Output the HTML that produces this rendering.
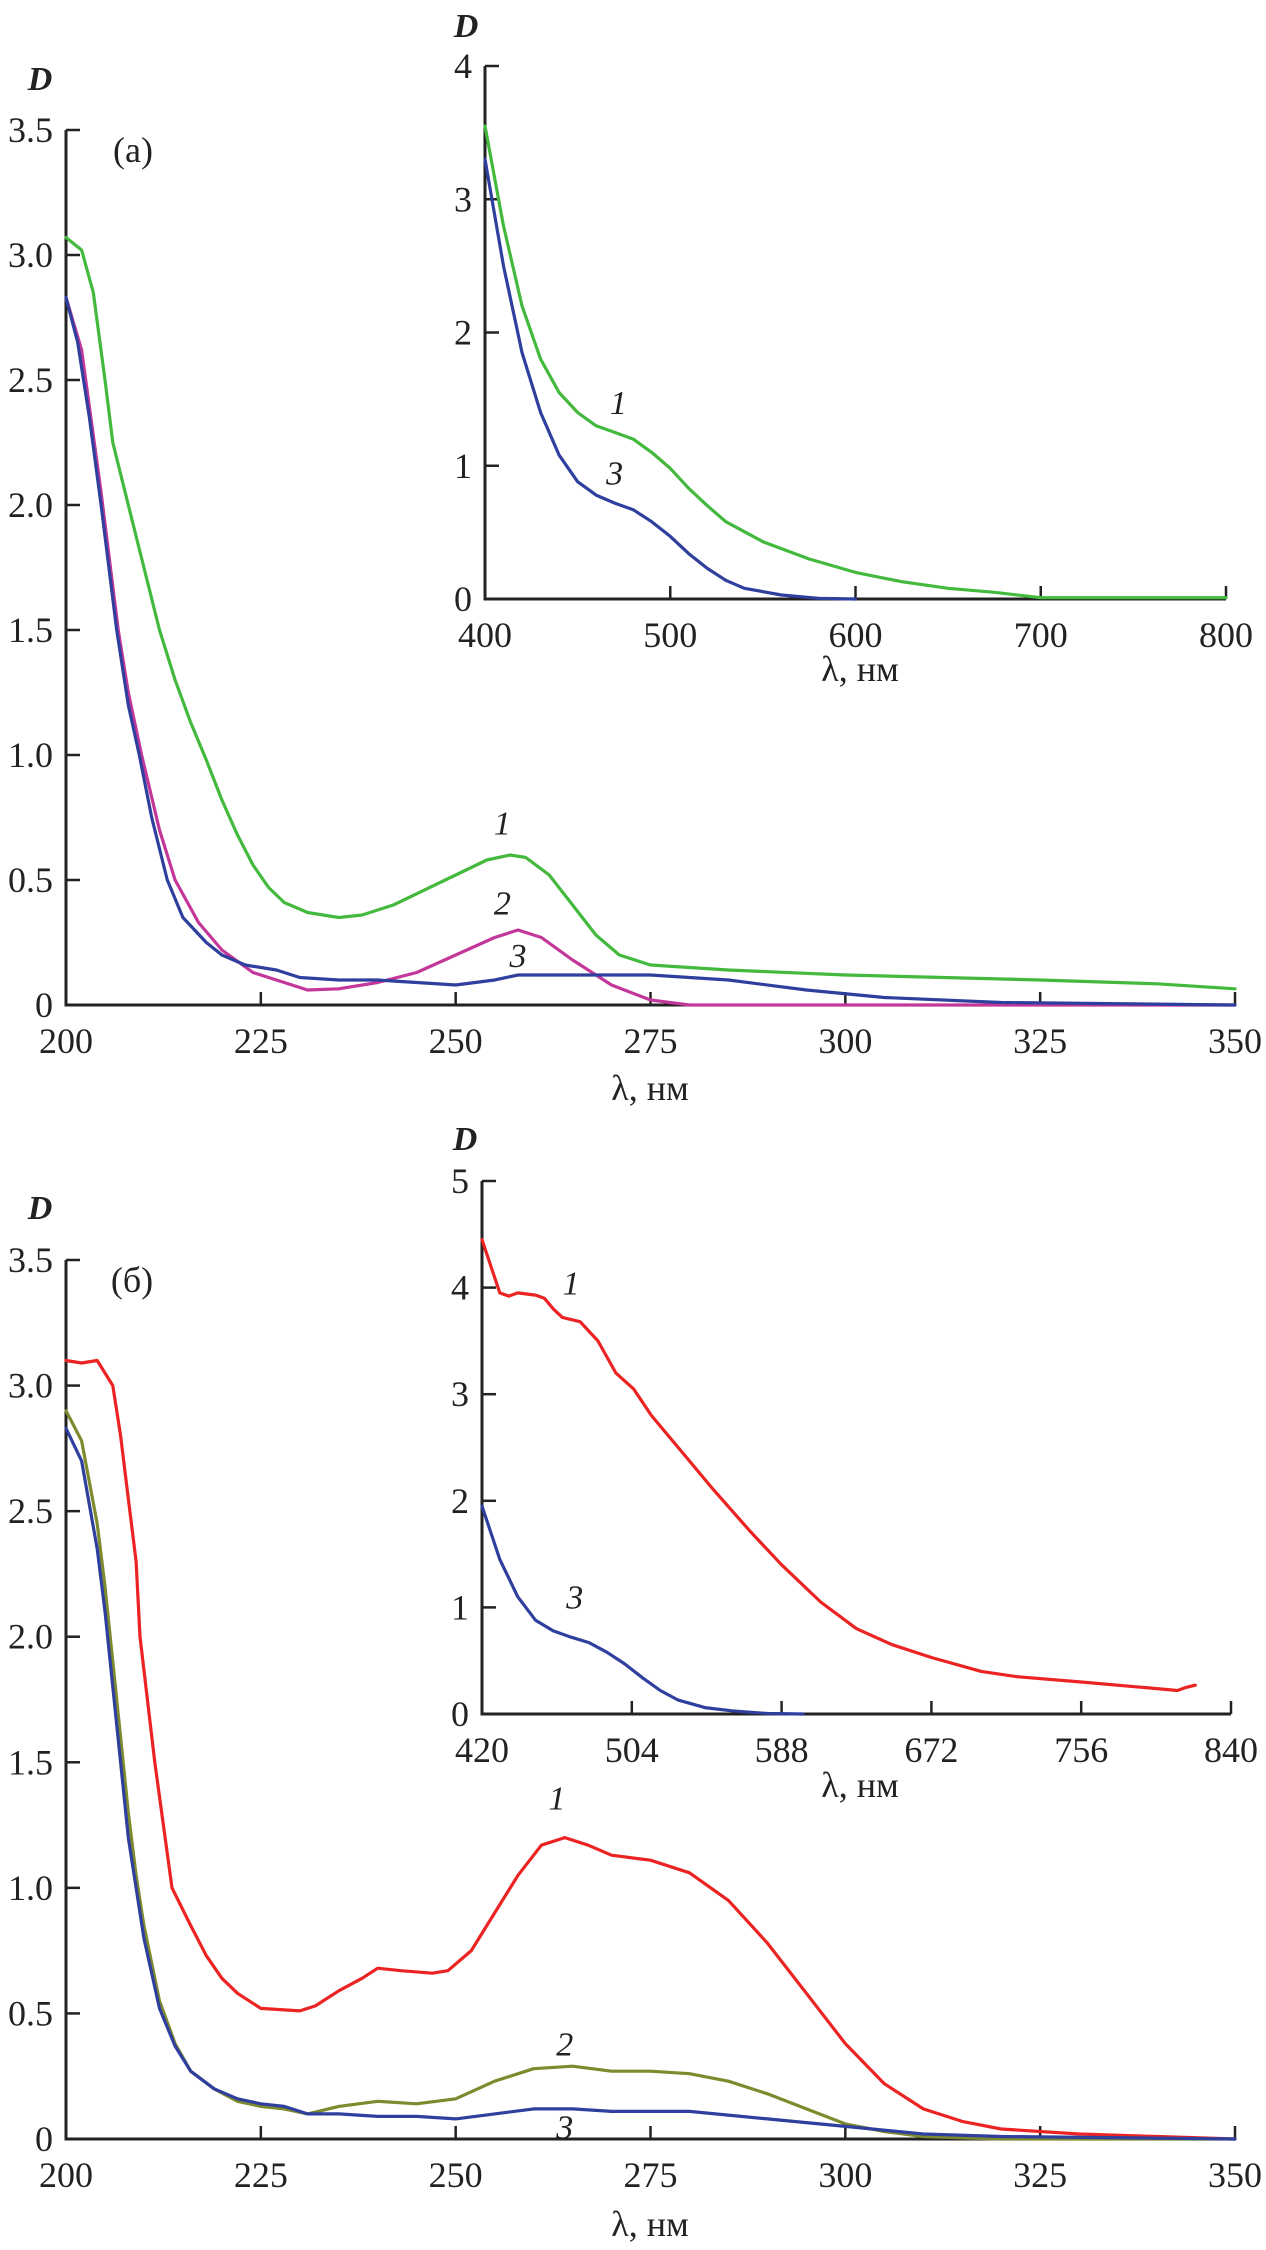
<!DOCTYPE html>
<html><head><meta charset="utf-8"><style>
html,body{margin:0;padding:0;background:#fff}
svg{display:block}
text{font-family:"Liberation Serif",serif;fill:#222}
</style></head><body>
<svg id="fig" width="1266" height="2250" viewBox="0 0 1266 2250" xmlns="http://www.w3.org/2000/svg"></svg>
<script>
// ---- Panel (a) main: wavelength (nm) and absorbance D ----
const aX1 = [200,202,203.5,205,206,208,210,212,214,216,218,220,222,224,226,228,231,235,238,242,246,250,254,257,259,262,265,268,271,275,285,300,325,340,350];
const aY1 = [3.07,3.02,2.85,2.5,2.25,2.0,1.75,1.5,1.3,1.13,0.98,0.82,0.68,0.56,0.47,0.41,0.37,0.35,0.36,0.40,0.46,0.52,0.58,0.60,0.59,0.52,0.40,0.28,0.20,0.16,0.14,0.12,0.10,0.085,0.065];
const aX2 = [200,202,204.5,206.7,208,209.7,212,214,217,220,224,228,231,235,240,245,250,255,258,261,265,270,275,280,350];
const aY2 = [2.83,2.62,2.05,1.5,1.25,1.0,0.7,0.5,0.33,0.22,0.13,0.09,0.06,0.065,0.09,0.13,0.2,0.27,0.30,0.27,0.18,0.08,0.02,0,0];
const aX3 = [200,201.5,203,204.5,206.5,208,209.4,211,213,215,218,220,223,227,230,235,240,245,250,255,258,265,275,285,295,305,320,350];
const aY3 = [2.83,2.65,2.35,2.0,1.5,1.2,1.0,0.75,0.5,0.35,0.25,0.2,0.16,0.14,0.11,0.10,0.10,0.09,0.08,0.10,0.12,0.12,0.12,0.10,0.06,0.03,0.01,0.0];
// ---- Panel (a) inset ----
const aiX1 = [400,410,420,430,440,450,460,470,480,490,500,510,520,530,550,575,600,625,650,675,700,800];
const aiY1 = [3.55,2.8,2.2,1.8,1.55,1.4,1.3,1.25,1.2,1.1,0.98,0.83,0.7,0.58,0.43,0.3,0.2,0.13,0.08,0.05,0.01,0.01];
const aiX3 = [400,410,420,430,440,450,460,470,480,490,500,510,520,530,540,560,580,600];
const aiY3 = [3.3,2.5,1.85,1.4,1.08,0.88,0.78,0.72,0.67,0.58,0.47,0.34,0.23,0.14,0.08,0.03,0.005,0];
// ---- Panel (б) main ----
const bX1 = [200,202,204,205,206,207,208,209,209.5,211.4,212.5,213.6,216,218,220,222,225,230,232,235,238,240,243,247,249,252,255,258,261,264,267,270,275,280,285,290,295,300,305,310,315,320,330,340,350];
const bY1 = [3.1,3.09,3.1,3.05,3.0,2.8,2.55,2.3,2.0,1.5,1.25,1.0,0.85,0.73,0.64,0.58,0.52,0.51,0.53,0.59,0.64,0.68,0.67,0.66,0.67,0.75,0.9,1.05,1.17,1.2,1.17,1.13,1.11,1.06,0.95,0.78,0.58,0.38,0.22,0.12,0.07,0.04,0.02,0.01,0];
const bX2 = [200,202,204,205,206,207,208,209,210,212,214,216,219,222,225,228,231,235,240,245,250,255,260,265,270,275,280,285,290,295,300,305,310,320,350];
const bY2 = [2.9,2.78,2.45,2.2,1.9,1.6,1.3,1.05,0.85,0.55,0.38,0.27,0.2,0.15,0.13,0.12,0.10,0.13,0.15,0.14,0.16,0.23,0.28,0.29,0.27,0.27,0.26,0.23,0.18,0.12,0.06,0.03,0.01,0,0];
const bX3 = [200,202,204,205,206,207,208,209,210,212,214,216,219,222,225,228,231,235,240,245,250,255,260,265,270,280,290,300,310,320,350];
const bY3 = [2.83,2.7,2.35,2.1,1.8,1.5,1.2,1.0,0.8,0.52,0.37,0.27,0.2,0.16,0.14,0.13,0.10,0.10,0.09,0.09,0.08,0.10,0.12,0.12,0.11,0.11,0.08,0.05,0.02,0.01,0];
// ---- Panel (б) inset ----
const biX1 = [420,425,430,435,440,450,455,460,465,475,485,495,505,515,530,550,570,588,610,630,650,672,700,720,756,790,810,815,820];
const biY1 = [4.45,4.2,3.95,3.92,3.95,3.93,3.9,3.8,3.72,3.68,3.5,3.2,3.05,2.8,2.5,2.1,1.72,1.4,1.05,0.8,0.65,0.53,0.4,0.35,0.3,0.25,0.22,0.25,0.27];
const biX3 = [420,430,440,450,460,470,480,490,500,510,520,530,545,560,580,600];
const biY3 = [1.95,1.45,1.1,0.88,0.78,0.72,0.67,0.58,0.47,0.34,0.22,0.13,0.06,0.03,0.005,0];
// tick labels
const mainXTicks = [200,225,250,275,300,325,350];
const mainYTicks = [0,0.5,1.0,1.5,2.0,2.5,3.0,3.5];
const mainYLabels = ["0","0.5","1.0","1.5","2.0","2.5","3.0","3.5"];
const aiXTicks = [400,500,600,700,800];
const aiYTicks = [0,1,2,3,4];
const biXTicks = [420,504,588,672,756,840];
const biYTicks = [0,1,2,3,4,5];

const NS = "http://www.w3.org/2000/svg";
const svg = document.getElementById('fig');
function mk(tag, attrs, parent){const e=document.createElementNS(NS,tag);for(const k in attrs)e.setAttribute(k,attrs[k]);(parent||svg).appendChild(e);return e;}

function makeAxes(cfg){
  const g = mk('g',{});
  
  
  const sx = v => cfg.x0 + (v - cfg.xmin) / (cfg.xmax - cfg.xmin) * (cfg.x1 - cfg.x0);
  const sy = v => cfg.y0 - (v - cfg.ymin) / (cfg.ymax - cfg.ymin) * (cfg.y0 - cfg.y1);
  const ax = mk('path',{d:`M${cfg.x0},${cfg.y1} V${cfg.y0} H${cfg.x1}`,fill:'none',stroke:'#222','stroke-width':3},g);
  
  
  cfg.xt.forEach((v,i)=>{
    const x = sx(v);
    mk('line',{x1:x,x2:x,y1:cfg.y0,y2:cfg.y0-13,stroke:'#222','stroke-width':2.5},g);
    const t = mk('text',{x:x,y:cfg.y0+48,'text-anchor':'middle','font-size':cfg.fs},g);
    
    
    t.textContent = String(v);
  });
  cfg.yt.forEach((v,i)=>{
    const y = sy(v);
    mk('line',{x1:cfg.x0,x2:cfg.x0+14,y1:y,y2:y,stroke:'#222','stroke-width':2.5},g);
    const t = mk('text',{x:cfg.x0-13,y:y+12,'text-anchor':'end','font-size':cfg.fs},g);
    
    
    t.textContent = cfg.yl ? cfg.yl[i] : String(v);
  });
  return {g, sx, sy};
}
function series(A, xs, ys, color, name){
  const d = xs.map((v,i)=>(i?'L':'M')+A.sx(v).toFixed(1)+','+A.sy(ys[i]).toFixed(1)).join(' ');
  const p = mk('path',{d:d,fill:'none',stroke:color,'stroke-width':3.2,'stroke-linejoin':'round','stroke-linecap':'round'},A.g);
  
  
}
function label(A, xv, yv, txt, name, fs){
  const t = mk('text',{x:A.sx(xv),y:A.sy(yv)+12,'text-anchor':'middle','font-size':fs||34,'font-style':'italic'},A.g);
  
  
  t.textContent = txt;
}
function freeText(x,y,txt,name,opts){
  const t = mk('text',Object.assign({x:x,y:y,'font-size':34},opts||{}));
  
  
  t.textContent = txt;
}
const GREEN='#43b93d', BLUE='#2f3f9e', MAG='#c4379a', RED='#ec2323', OLIVE='#7f8a2e';

// Panel (a)
const A = makeAxes({name:'panel-a-main',x0:66,x1:1235,y0:1005,y1:130,xmin:200,xmax:350,ymin:0,ymax:3.5,xt:mainXTicks,yt:mainYTicks,yl:mainYLabels,fs:36});
series(A,aX1,aY1,GREEN,'a-curve-1');
series(A,aX2,aY2,MAG,'a-curve-2');
series(A,aX3,aY3,BLUE,'a-curve-3');
label(A,256,0.73,'1','a-label-1');
label(A,256,0.41,'2','a-label-2');
label(A,258,0.2,'3','a-label-3');
freeText(40,90,'D','a-y-axis-title',{'text-anchor':'middle','font-style':'italic','font-weight':'bold'});
freeText(133,162,'(a)','a-panel-label',{'text-anchor':'middle','font-size':36});
freeText(650,1100,'λ, нм','a-x-axis-title',{'text-anchor':'middle','font-size':36});

const AI = makeAxes({name:'panel-a-inset',x0:485,x1:1226,y0:599,y1:66,xmin:400,xmax:800,ymin:0,ymax:4,xt:aiXTicks,yt:aiYTicks,fs:36});
series(AI,aiX1,aiY1,GREEN,'a-inset-curve-1');
series(AI,aiX3,aiY3,BLUE,'a-inset-curve-3');
label(AI,472,1.48,'1','a-inset-label-1');
label(AI,470,0.95,'3','a-inset-label-3');
freeText(466,37,'D','a-inset-y-axis-title',{'text-anchor':'middle','font-style':'italic','font-weight':'bold'});
freeText(860,681,'λ, нм','a-inset-x-axis-title',{'text-anchor':'middle','font-size':36});

// Panel (б)
const B = makeAxes({name:'panel-b-main',x0:66,x1:1235,y0:2139,y1:1260,xmin:200,xmax:350,ymin:0,ymax:3.5,xt:mainXTicks,yt:mainYTicks,yl:mainYLabels,fs:36});
series(B,bX1,bY1,RED,'b-curve-1');
series(B,bX2,bY2,OLIVE,'b-curve-2');
series(B,bX3,bY3,BLUE,'b-curve-3');
label(B,263,1.36,'1','b-label-1');
label(B,264,0.38,'2','b-label-2');
label(B,264,0.05,'3','b-label-3');
freeText(40,1219,'D','b-y-axis-title',{'text-anchor':'middle','font-style':'italic','font-weight':'bold'});
freeText(132,1292,'(б)','b-panel-label',{'text-anchor':'middle','font-size':36});
freeText(650,2236,'λ, нм','b-x-axis-title',{'text-anchor':'middle','font-size':36});

const BI = makeAxes({name:'panel-b-inset',x0:482,x1:1231,y0:1714,y1:1181,xmin:420,xmax:840,ymin:0,ymax:5,xt:biXTicks,yt:biYTicks,fs:36});
series(BI,biX1,biY1,RED,'b-inset-curve-1');
series(BI,biX3,biY3,BLUE,'b-inset-curve-3');
label(BI,470,4.05,'1','b-inset-label-1');
label(BI,472,1.1,'3','b-inset-label-3');
freeText(465,1150,'D','b-inset-y-axis-title',{'text-anchor':'middle','font-style':'italic','font-weight':'bold'});
freeText(860,1797,'λ, нм','b-inset-x-axis-title',{'text-anchor':'middle','font-size':36});
</script>
</body></html>
